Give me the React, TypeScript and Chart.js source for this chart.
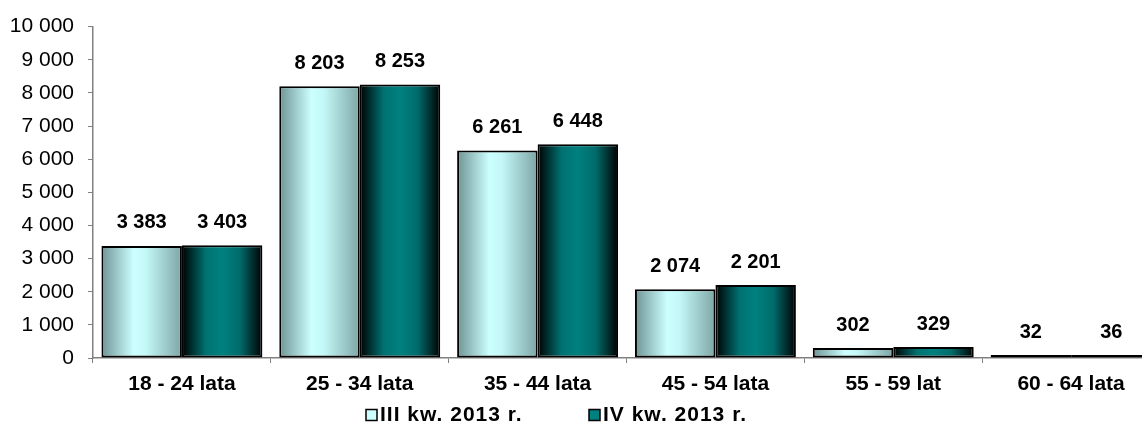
import React, { useEffect, useRef } from "react";
import { Chart, registerables } from "chart.js";

Chart.register(...registerables);

const categories = ["18 - 24 lata", "25 - 34 lata", "35 - 44 lata", "45 - 54 lata", "55 - 59 lat", "60 - 64 lata"];
const seriesIII = [3383, 8203, 6261, 2074, 302, 32];
const seriesIV = [3403, 8253, 6448, 2201, 329, 36];
const seriesLabels = ["III kw. 2013 r.", "IV kw. 2013 r."];
const yMax = 10000;
const yStep = 1000;

const FONT = "'Liberation Sans', Arial, sans-serif";
const CAT_PCT = 0.905;

const fmt = (v: number) => String(v).replace(/\B(?=(\d{3})+(?!\d))/g, " ");

const lightStops: [number, string][] = [
  [0, "#6f9494"],
  [0.4, "#ccffff"],
  [0.55, "#c4f8f8"],
  [1, "#7ea6a6"],
];
const darkStops: [number, string][] = [
  [0, "#000000"],
  [0.3, "#007272"],
  [0.5, "#008080"],
  [0.72, "#006b6b"],
  [1, "#000000"],
];

function makeGrad(ctx: any, dsIndex: number) {
  const chart = ctx.chart;
  const xs = chart.scales && chart.scales.x;
  const solid = dsIndex === 0 ? "#ccffff" : "#008080";
  if (!xs || ctx.type !== "data" || !xs.width) return solid;
  const center = xs.getPixelForValue(ctx.dataIndex);
  const catW = xs.width / categories.length;
  const groupW = catW * CAT_PCT;
  const x0 = dsIndex === 0 ? center - groupW / 2 : center;
  const x1 = x0 + groupW / 2;
  const g = chart.ctx.createLinearGradient(x0, 0, x1, 0);
  const stops = dsIndex === 0 ? lightStops : darkStops;
  stops.forEach(([o, c]) => g.addColorStop(o, c));
  return g;
}

const valueLabels = {
  id: "valueLabels",
  afterDatasetsDraw(chart: any) {
    const c = chart.ctx;
    c.save();
    c.font = `bold 20px ${FONT}`;
    c.fillStyle = "#000";
    c.textAlign = "center";
    c.textBaseline = "middle";
    chart.data.datasets.forEach((ds: any, i: number) => {
      const meta = chart.getDatasetMeta(i);
      meta.data.forEach((el: any, j: number) => {
        c.fillText(fmt(ds.data[j]), el.x, el.y - 23);
      });
    });
    c.restore();
  },
};

const customLegend = {
  id: "customLegend",
  afterDraw(chart: any) {
    const c = chart.ctx;
    const area = chart.chartArea;
    const y = 415;
    const starts = [area.left + 273, area.left + 496];
    const fills = ["#ccffff", "#008080"];
    c.save();
    c.font = `bold 21px ${FONT}`;
    c.textBaseline = "middle";
    c.textAlign = "left";
    try {
      (c as any).letterSpacing = "1px";
    } catch (e) {}
    seriesLabels.forEach((lab, i) => {
      const x = starts[i];
      c.fillStyle = fills[i];
      c.fillRect(x, y - 5.5, 11, 11);
      c.lineWidth = 1.5;
      c.strokeStyle = "#000";
      c.strokeRect(x, y - 5.5, 11, 11);
      c.fillStyle = "#000";
      c.fillText(lab, x + 14, y);
    });
    c.restore();
  },
};

export default function App() {
  const ref = useRef<HTMLCanvasElement>(null);
  useEffect(() => {
    if (!ref.current) return;
    const chart = new Chart(ref.current, {
      type: "bar",
      data: {
        labels: categories,
        datasets: [
          {
            label: seriesLabels[0],
            data: seriesIII,
            backgroundColor: (ctx: any) => makeGrad(ctx, 0),
            borderColor: "#000",
            borderWidth: 2,
            borderSkipped: false,
            minBarLength: 3,
            categoryPercentage: CAT_PCT,
            barPercentage: 1,
          },
          {
            label: seriesLabels[1],
            data: seriesIV,
            backgroundColor: (ctx: any) => makeGrad(ctx, 1),
            borderColor: "#000",
            borderWidth: 2,
            borderSkipped: false,
            minBarLength: 3,
            categoryPercentage: CAT_PCT,
            barPercentage: 1,
          },
        ],
      },
      options: {
        responsive: false,
        animation: false,
        devicePixelRatio: 1,
        layout: { padding: { top: 24, right: 0, bottom: 25, left: 0 } },
        plugins: {
          legend: { display: false },
          tooltip: { enabled: false },
        },
        scales: {
          x: {
            grid: {
              display: true,
              drawOnChartArea: false,
              drawTicks: true,
              tickLength: 5,
              color: "#808080",
              offset: true,
            },
            border: { color: "#808080", width: 1.5 },
            ticks: {
              color: "#000",
              font: { family: FONT, size: 21, weight: "bold" },
              padding: 9,
              maxRotation: 0,
              autoSkip: false,
            },
            afterFit: (s: any) => {
              s.height = 40;
            },
          },
          y: {
            min: 0,
            max: yMax,
            grid: {
              display: true,
              drawOnChartArea: false,
              drawTicks: true,
              tickLength: 5,
              color: "#808080",
            },
            border: { color: "#808080", width: 1.5 },
            ticks: {
              stepSize: yStep,
              color: "#000",
              font: { family: FONT, size: 21 },
              padding: 14,
              callback: (v: any) => fmt(Number(v)),
            },
            afterFit: (s: any) => {
              s.width = 93;
            },
          },
        },
      },
      plugins: [valueLabels, customLegend],
    });
    return () => chart.destroy();
  }, []);
  return (
    <div
      style={{
        position: "absolute",
        left: 0,
        top: 0,
        width: 1142,
        height: 423,
        overflow: "hidden",
        background: "#fff",
      }}
    >
      <canvas ref={ref} width={1160} height={423} style={{ display: "block" }} />
    </div>
  );
}
